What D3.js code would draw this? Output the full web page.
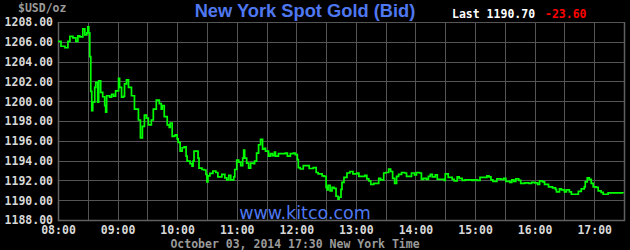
<!DOCTYPE html>
<html>
<head>
<meta charset="utf-8">
<script src="https://cdn.jsdelivr.net/npm/d3@7"></script>
<style>
  html, body { margin: 0; padding: 0; background: #000; }
  svg { display: block; }
  .mono { font-family: "DejaVu Sans Mono", monospace; font-weight: bold; font-size: 11.5px; }
</style>
</head>
<body>
<svg id="chart" width="630" height="250"></svg>
<script>
// 紐約現貨金價（買價）日內走勢
const times = [
  '08:00','08:03','08:07','08:10','08:12','08:15','08:18','08:20','08:22','08:25',
  '08:27','08:29','08:30','08:31','08:32','08:33','08:34','08:35','08:37','08:38',
  '08:40','08:41','08:43','08:45','08:47','08:48','08:49','08:52','08:54','08:56',
  '08:58','09:01','09:02','09:04','09:06','09:07','09:09','09:11','09:14','09:17',
  '09:19','09:21','09:23','09:25','09:27','09:29','09:31','09:34','09:36','09:39',
  '09:42','09:44','09:45','09:47','09:50','09:52','09:53','09:55','09:57','09:58',
  '10:00','10:01','10:03','10:05','10:07','10:09','10:10','10:13','10:15','10:16',
  '10:17','10:19','10:21','10:22','10:25','10:27','10:29','10:30','10:31','10:33',
  '10:36','10:39','10:41','10:43','10:45','10:48','10:50','10:52','10:54','10:57',
  '10:58','11:00','11:02','11:04','11:06','11:07','11:08','11:10','11:12','11:14',
  '11:17','11:18','11:20','11:22','11:24','11:26','11:28','11:29','11:32','11:34',
  '11:36','11:38','11:39','11:42','11:45','11:49','11:51','11:54','11:57','11:59',
  '12:01','12:02','12:04','12:07','12:10','12:13','12:17','12:20','12:22','12:26',
  '12:28','12:30','12:31','12:32','12:34','12:36','12:38','12:40','12:42','12:43',
  '12:45','12:46','12:48','12:51','12:54','12:57','13:01','13:03','13:06','13:09',
  '13:11','13:13','13:15','13:18','13:20','13:23','13:25','13:28','13:30','13:33',
  '13:35','13:37','13:39','13:41','13:43','13:46','13:49','13:51','13:54','13:56',
  '13:59','14:01','14:04','14:06','14:08','14:11','14:13','14:15','14:17','14:20',
  '14:22','14:26','14:29','14:30','14:33','14:37','14:39','14:42','14:44','14:47',
  '14:50','14:54','14:57','14:59','15:02','15:05','15:08','15:12','15:14','15:16',
  '15:18','15:22','15:26','15:29','15:31','15:35','15:37','15:39','15:41','15:44',
  '15:46','15:50','15:54','15:57','16:00','16:03','16:05','16:08','16:10','16:14',
  '16:18','16:21','16:22','16:25','16:27','16:30','16:32','16:35','16:37','16:42',
  '16:44','16:47','16:50','16:51','16:53','16:55','16:57','16:59','17:02','17:04',
  '17:07','17:09','17:12','17:14','17:29'
];
const prices = [
  1206.05,1205.55,1205.40,1206.05,1206.55,1206.40,1206.05,1206.60,1206.50,1207.30,
  1206.70,1206.90,1207.50,1206.90,1204.50,1201.00,1199.05,1199.90,1201.40,1201.90,
  1199.90,1202.05,1200.90,1200.45,1199.55,1198.90,1200.55,1200.40,1200.70,1200.50,
  1201.05,1202.30,1201.40,1200.40,1200.50,1201.75,1202.15,1201.40,1200.55,1199.20,
  1199.20,1198.10,1196.30,1197.45,1198.60,1198.30,1197.60,1198.10,1199.20,1200.10,
  1199.75,1199.20,1199.55,1198.45,1197.60,1197.35,1197.80,1196.45,1196.50,1196.60,
  1196.20,1195.85,1194.95,1195.30,1195.40,1194.45,1193.95,1193.70,1193.45,1193.95,
  1194.95,1194.95,1194.25,1193.25,1193.10,1193.05,1192.60,1191.85,1192.45,1192.70,
  1192.95,1192.80,1192.35,1192.35,1192.60,1192.25,1192.05,1192.50,1192.05,1192.35,
  1193.10,1194.05,1193.85,1193.50,1194.25,1195.05,1194.25,1193.75,1193.25,1193.75,
  1193.70,1193.95,1194.75,1195.60,1196.15,1195.15,1195.25,1194.95,1194.45,1194.70,
  1194.50,1194.85,1194.45,1194.70,1194.70,1194.75,1194.45,1194.70,1194.75,1194.60,
  1194.10,1193.30,1193.15,1193.50,1193.50,1193.20,1193.30,1192.80,1192.65,1192.45,
  1192.40,1191.30,1191.05,1191.50,1190.95,1191.30,1191.20,1190.40,1190.10,1190.30,
  1191.10,1191.80,1192.30,1192.75,1192.90,1192.65,1192.75,1192.40,1192.40,1192.50,
  1192.15,1191.95,1191.60,1191.70,1191.70,1192.20,1192.05,1192.75,1192.80,1193.15,
  1192.90,1192.20,1191.70,1192.40,1192.60,1192.80,1192.75,1192.40,1192.40,1192.75,
  1192.55,1192.80,1192.75,1192.10,1192.20,1192.10,1192.40,1192.60,1192.35,1192.55,
  1192.10,1192.10,1192.00,1192.65,1192.30,1192.10,1191.95,1192.35,1192.20,1192.00,
  1192.05,1192.05,1192.00,1192.05,1192.00,1192.30,1192.30,1192.45,1192.35,1192.05,
  1191.90,1192.15,1192.10,1192.20,1191.90,1191.80,1192.05,1191.90,1192.15,1192.00,
  1191.70,1191.75,1191.70,1191.80,1191.75,1191.60,1191.95,1191.85,1191.60,1191.35,
  1191.25,1191.10,1190.85,1191.15,1191.05,1190.85,1191.05,1190.85,1190.60,1190.60,
  1190.90,1191.15,1191.35,1191.85,1192.25,1192.10,1191.70,1191.35,1191.30,1190.95,
  1190.80,1190.60,1190.60,1190.75,1190.70
];
const yTicks = [1188, 1190, 1192, 1194, 1196, 1198, 1200, 1202, 1204, 1206, 1208];
const xTickLabels = ['08:00','09:00','10:00','11:00','12:00','13:00','14:00','15:00','16:00','17:00'];
const lastPrice = '1190.70';
const change = '-23.60';

const parse = d3.timeParse('%H:%M');
const data = times.map((t, i) => ({ t: parse(t), v: prices[i] }));

const margin = { left: 58, right: 6, top: 22, bottom: 30 };
const W = 630, H = 250;
const svg = d3.select('#chart');

const x = d3.scaleTime()
  .domain([parse('08:00'), parse('17:30')])
  .range([margin.left, W - margin.right]);
const y = d3.scaleLinear()
  .domain([1188, 1208])
  .range([H - margin.bottom, margin.top]);

const snap = (v) => Math.round(v) + 0.5;

// 格線（每半小時一條直線）
const gridColor = '#555';
const halfHours = d3.timeMinute.every(30).range(parse('08:00'), d3.timeMinute.offset(parse('17:30'), 1));
svg.append('g')
  .selectAll('line')
  .data(halfHours)
  .join('line')
  .attr('x1', (d) => snap(x(d))).attr('x2', (d) => snap(x(d)))
  .attr('y1', y(1208)).attr('y2', y(1188))
  .attr('stroke', gridColor)
  .attr('shape-rendering', 'crispEdges');

const yAxis = d3.axisLeft(y)
  .tickValues(yTicks)
  .tickSize(-(W - margin.left - margin.right))
  .tickPadding(5)
  .tickFormat(d3.format('.2f'));
const gy = svg.append('g')
  .attr('transform', `translate(${margin.left},0)`)
  .call(yAxis);
gy.select('.domain').remove();
gy.selectAll('.tick line')
  .attr('stroke', gridColor)
  .attr('shape-rendering', 'crispEdges');
gy.selectAll('.tick text')
  .attr('class', 'mono')
  .attr('fill', '#d8d8d8')
  .attr('x', -5)
  .attr('dy', '0.34em');

const xAxis = d3.axisBottom(x)
  .tickValues(xTickLabels.map(parse))
  .tickSize(0)
  .tickFormat(d3.timeFormat('%H:%M'));
const gx = svg.append('g')
  .attr('transform', `translate(0,${y(1188)})`)
  .call(xAxis);
gx.select('.domain').remove();
gx.selectAll('.tick text')
  .attr('class', 'mono')
  .attr('fill', '#d8d8d8')
  .attr('y', 14)
  .attr('dy', null);

// 外框
svg.append('path')
  .attr('d', `M${snap(x.range()[0])},${y(1208)}V${snap(y(1188))}H${snap(x.range()[1])}V${y(1208)}`)
  .attr('fill', 'none')
  .attr('stroke', '#606060')
  .attr('stroke-width', 1.5);

// 浮水印
svg.append('text')
  .attr('x', 305).attr('y', 219)
  .attr('text-anchor', 'middle')
  .attr('font-family', '"DejaVu Sans", sans-serif')
  .attr('font-size', 17.5)
  .attr('fill', '#4f78f0')
  .text('www.kitco.com');

// 價格線
const line = d3.line()
  .x((d) => x(d.t))
  .y((d) => y(d.v))
  .curve(d3.curveStepAfter);
svg.append('path')
  .datum(data)
  .attr('d', line)
  .attr('fill', 'none')
  .attr('stroke', '#00ff00')
  .attr('stroke-width', 1.7);

// 標題與資訊
svg.append('text')
  .attr('x', 305).attr('y', 17)
  .attr('text-anchor', 'middle')
  .attr('font-family', '"Liberation Sans", Arial, sans-serif')
  .attr('font-weight', 'bold')
  .attr('font-size', 18.3)
  .attr('fill', '#4f78f0')
  .text('New York Spot Gold (Bid)');

svg.append('text')
  .attr('class', 'mono')
  .attr('x', 18).attr('y', 12)
  .attr('fill', '#9a9a9a')
  .text('$USD/oz');

svg.append('text')
  .attr('class', 'mono')
  .attr('x', 452).attr('y', 18)
  .attr('fill', '#fff')
  .text('Last ' + lastPrice);
svg.append('text')
  .attr('class', 'mono')
  .attr('x', 545).attr('y', 18)
  .attr('fill', '#ff0000')
  .text(change);

svg.append('text')
  .attr('class', 'mono')
  .attr('x', 295).attr('y', 247.5)
  .attr('text-anchor', 'middle')
  .attr('fill', '#9a9a9a')
  .text('October 03, 2014 17:30 New York Time');
</script>
</body>
</html>
